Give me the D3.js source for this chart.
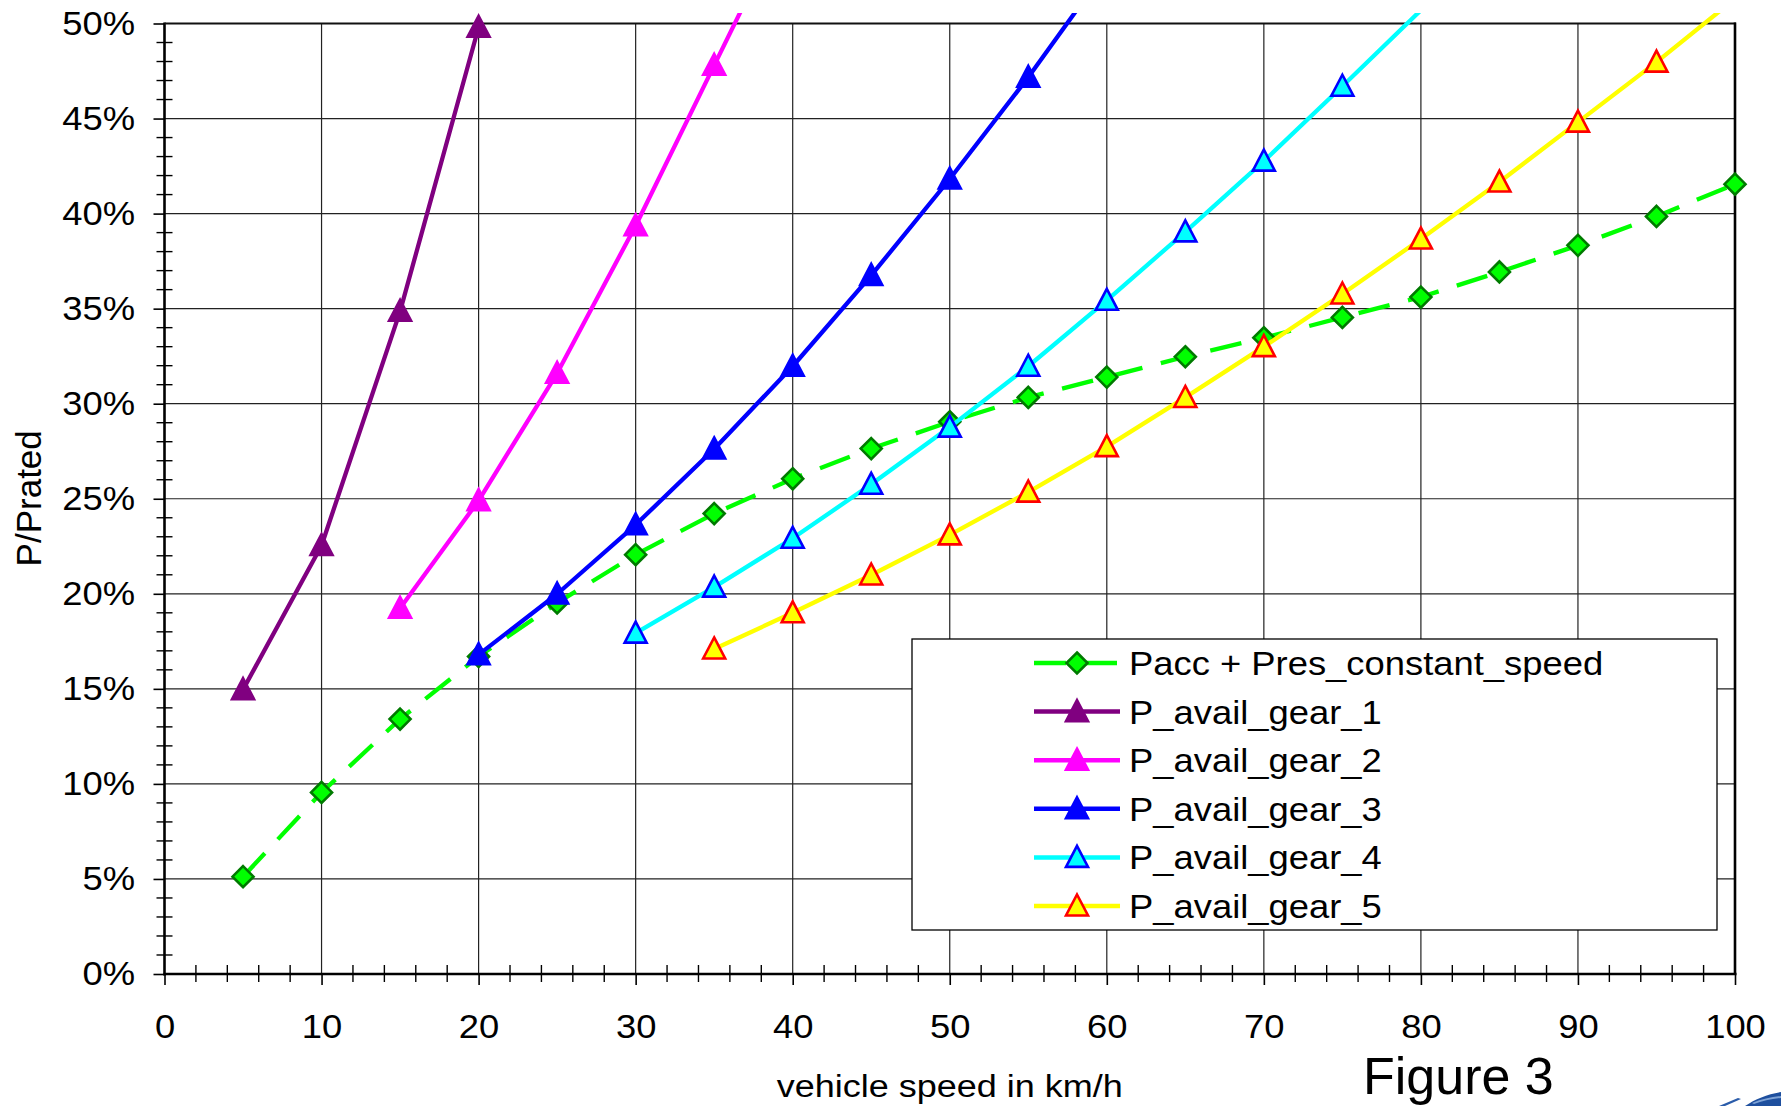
<!DOCTYPE html>
<html>
<head>
<meta charset="utf-8">
<script src="https://cdn.jsdelivr.net/npm/d3@7/dist/d3.min.js"></script>
<style>
  html, body { margin: 0; padding: 0; background: #fff; }
  svg { display: block; }
  text { font-family: "Liberation Sans", Arial, sans-serif; fill: #000; }
</style>
</head>
<body>
<svg id="chart" width="1781" height="1106"></svg>
<script>
// ---------------- data ----------------
const speedsRequired = [5,10,15,20,25,30,35,40,45,50,55,60,65,70,75,80,85,90,95,100];
const pRequired = [5.12,9.55,13.41,16.7,19.52,22.06,24.22,26.05,27.64,29.05,30.33,31.4,32.47,33.47,34.54,35.61,36.93,38.33,39.85,41.55];

const speedsGear1 = [5,10,15,20];
const pGear1 = [14.96,22.54,34.86,49.8];

const speedsGear2 = [15,20,25,30,35,40];
const pGear2 = [19.24,24.9,31.6,39.36,47.8,56.2];

const speedsGear3 = [20,25,30,35,40,45,50,55,60];
const pGear3 = [16.8,19.99,23.63,27.62,31.97,36.75,41.82,47.17,52.9];

const speedsGear4 = [30,35,40,45,50,55,60,65,70,75,80];
const pGear4 = [17.93,20.35,22.92,25.76,28.77,31.97,35.44,39.04,42.76,46.7,50.7];

const speedsGear5 = [35,40,45,50,55,60,65,70,75,80,85,90,95,100];
const pGear5 = [17.1,19.0,20.99,23.1,25.35,27.74,30.33,33.0,35.77,38.66,41.66,44.81,47.97,51.3];

const seriesNames = ["Pacc + Pres_constant_speed","P_avail_gear_1","P_avail_gear_2","P_avail_gear_3","P_avail_gear_4","P_avail_gear_5"];
const xTicks = [0,10,20,30,40,50,60,70,80,90,100];
const yTicks = [0,5,10,15,20,25,30,35,40,45,50];
const xTitle = "vehicle speed in km/h";
const yTitle = "P/Prated";
const figureLabel = "Figure 3";

// ---------------- styles ----------------
const series = [
  {name: seriesNames[0], xs: speedsRequired, ys: pRequired, color: "#00ff00", marker: "diamond", fill: "#00ff00", stroke: "#007a00", dash: "32,19"},
  {name: seriesNames[1], xs: speedsGear1, ys: pGear1, color: "#800080", marker: "triangle", fill: "#800080", stroke: "#800080"},
  {name: seriesNames[2], xs: speedsGear2, ys: pGear2, color: "#ff00ff", marker: "triangle", fill: "#ff00ff", stroke: "#ff00ff"},
  {name: seriesNames[3], xs: speedsGear3, ys: pGear3, color: "#0000ff", marker: "triangle", fill: "#0000ff", stroke: "#0000ff"},
  {name: seriesNames[4], xs: speedsGear4, ys: pGear4, color: "#00ffff", marker: "triangle", fill: "#00ffff", stroke: "#0000ff"},
  {name: seriesNames[5], xs: speedsGear5, ys: pGear5, color: "#ffff00", marker: "triangle", fill: "#ffff00", stroke: "#ff0000"}
];

const svg = d3.select("#chart");
const L = 164.5, R = 1735, T = 23.5, B = 974;
const x = d3.scaleLinear().domain([0,100]).range([L, R]);
const y = d3.scaleLinear().domain([0,50]).range([B, T]);
const TXS = 1.07; // horizontal text stretch seen in the reference

svg.append("rect").attr("width",1781).attr("height",1106).attr("fill","#fff");

// gridlines
svg.append("g").selectAll("line").data(xTicks.filter(d => d > 0 && d < 100)).join("line")
  .attr("x1", d => x(d)).attr("x2", d => x(d)).attr("y1", T).attr("y2", B)
  .attr("stroke", "#222").attr("stroke-width", 1.2);
svg.append("g").selectAll("line").data(yTicks.filter(d => d > 0 && d < 50)).join("line")
  .attr("y1", d => y(d)).attr("y2", d => y(d)).attr("x1", L).attr("x2", R)
  .attr("stroke", "#222").attr("stroke-width", 1.2);

// minor ticks
svg.append("g").selectAll("line").data(d3.range(0,51,1).filter(d => d % 5 !== 0)).join("line")
  .attr("y1", d => y(d)).attr("y2", d => y(d)).attr("x1", L - 8).attr("x2", L + 8)
  .attr("stroke", "#000").attr("stroke-width", 1.4);
svg.append("g").selectAll("line").data(d3.range(0,101,2).filter(d => d % 10 !== 0)).join("line")
  .attr("x1", d => x(d)).attr("x2", d => x(d)).attr("y1", B - 9).attr("y2", B + 8)
  .attr("stroke", "#000").attr("stroke-width", 1.4);

// axes
const yAxis = d3.axisLeft(y).tickValues(yTicks).tickSize(11).tickPadding(0).tickFormat(d => d + "%");
const gy = svg.append("g").attr("transform", `translate(${L},0)`).call(yAxis);
gy.select(".domain").remove();
gy.selectAll(".tick line").attr("stroke", "#000").attr("stroke-width", 1.6);
gy.selectAll(".tick text").style("font-size", "34px").attr("fill", "#000")
  .attr("x", null).attr("transform", `translate(-29.5,0) scale(${TXS},1)`);

const xAxis = d3.axisBottom(x).tickValues(xTicks).tickSize(11).tickPadding(29);
const gx = svg.append("g").attr("transform", `translate(0,${B})`).call(xAxis);
gx.select(".domain").remove();
gx.selectAll(".tick line").attr("stroke", "#000").attr("stroke-width", 1.6);
gx.selectAll(".tick text").style("font-size", "34px").attr("fill", "#000")
  .attr("y", null).attr("transform", `translate(0,40) scale(${TXS},1)`);

// frame
svg.append("line").attr("x1", L).attr("x2", L).attr("y1", T - 1).attr("y2", B + 1.5).attr("stroke", "#000").attr("stroke-width", 2.6);
svg.append("line").attr("x1", L - 1).attr("x2", R + 1.5).attr("y1", B).attr("y2", B).attr("stroke", "#000").attr("stroke-width", 2.6);
svg.append("line").attr("x1", L).attr("x2", R + 1).attr("y1", T).attr("y2", T).attr("stroke", "#111").attr("stroke-width", 2.2);
svg.append("line").attr("x1", R).attr("x2", R).attr("y1", T - 1).attr("y2", B).attr("stroke", "#000").attr("stroke-width", 2.6);

// clip for lines
svg.append("clipPath").attr("id", "plotclip").append("rect")
  .attr("x", L).attr("y", 13).attr("width", R - L + 2).attr("height", B - 13);

const line = d3.line().x(d => x(d[0])).y(d => y(d[1]));
const triPath = "M0,-12.5L11,8.5L-11,8.5Z";
const diaPath = "M0,-10.5L10.5,0L0,10.5L-10.5,0Z";
function markerPath(s) { return s.marker === "diamond" ? diaPath : triPath; }

const plot = svg.append("g");
series.forEach(s => {
  const pts = s.xs.map((v, i) => [v, s.ys[i]]);
  plot.append("path").attr("d", line(pts)).attr("fill", "none")
    .attr("stroke", s.color).attr("stroke-width", 4.3)
    .attr("stroke-linejoin", "round")
    .attr("stroke-dasharray", s.dash || null)
    .attr("clip-path", "url(#plotclip)");
  plot.append("g").selectAll("path").data(pts.filter(p => p[1] <= 50)).join("path")
    .attr("transform", p => `translate(${x(p[0])},${y(p[1]) + (s.marker === "triangle" ? 1 : 0)})`)
    .attr("d", markerPath(s))
    .attr("fill", s.fill).attr("stroke", s.stroke).attr("stroke-width", 2.6)
    .attr("stroke-linejoin", "miter");
});

// legend
const lg = svg.append("g");
lg.append("rect").attr("x", 912).attr("y", 639).attr("width", 805).attr("height", 291)
  .attr("fill", "#fff").attr("stroke", "#000").attr("stroke-width", 1.3);
series.forEach((s, i) => {
  const cy = 663 + i * 48.6;
  lg.append("line").attr("x1", 1034).attr("x2", 1120).attr("y1", cy).attr("y2", cy)
    .attr("stroke", s.color).attr("stroke-width", 4.5)
    .attr("stroke-dasharray", s.dash || null);
  lg.append("path").attr("transform", `translate(1077,${cy + (s.marker === "triangle" ? 1 : 0)})`)
    .attr("d", markerPath(s))
    .attr("fill", s.fill).attr("stroke", s.stroke).attr("stroke-width", 2.6);
  lg.append("text").attr("transform", `translate(1129,${cy + 12}) scale(${TXS},1)`)
    .style("font-size", "34px").text(s.name);
});

// titles
svg.append("text").attr("x", 949.7).attr("y", 1096.5).attr("text-anchor", "middle")
  .style("font-size", "31px").attr("textLength", 346).attr("lengthAdjust", "spacingAndGlyphs").text(xTitle);
svg.append("text").attr("transform", "translate(40.5,498.3) rotate(-90)").attr("text-anchor", "middle")
  .style("font-size", "35px").text(yTitle);
svg.append("text").attr("x", 1363).attr("y", 1094).style("font-size", "52px").text(figureLabel);

// logo fragment (bottom right corner)
svg.append("path").attr("d", "M1719,1106 L1738,1098 L1741,1099 L1725,1106 Z").attr("fill", "#2a5caa");
svg.append("path").attr("d", "M1745,1106 C1755,1099 1768,1094 1781,1092 L1781,1106 Z").attr("fill", "#1e4f9e");
svg.append("path").attr("d", "M1752,1103 C1762,1099 1771,1097 1781,1096 L1781,1098 C1771,1099 1762,1101 1754,1104 Z").attr("fill", "#7fa3d6");
</script>
</body>
</html>
